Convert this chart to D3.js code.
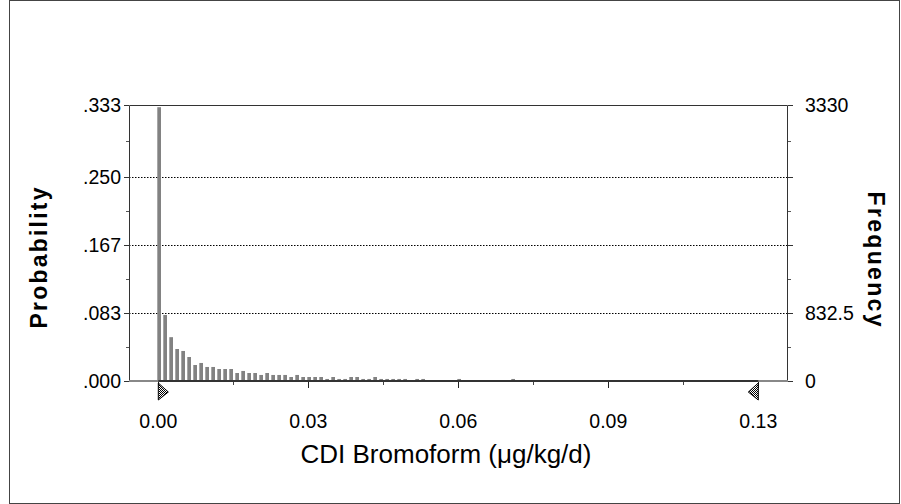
<!DOCTYPE html>
<html><head><meta charset="utf-8">
<script src="https://cdn.jsdelivr.net/npm/d3@7"></script>
<style>html,body{margin:0;padding:0;background:#fff;}svg{display:block;}</style>
</head><body>
<svg id="chart" width="901" height="504"></svg>
<script>
// ---- data ----
const binX = [0.0000,0.0013,0.0026,0.0039,0.0052,0.0065,0.0078,0.0091,0.0104,0.0117,
  0.0130,0.0143,0.0156,0.0169,0.0182,0.0195,0.0208,0.0221,0.0234,0.0247,
  0.0260,0.0273,0.0286,0.0299,0.0312,0.0325,0.0338,0.0351,0.0364,0.0377,
  0.0390,0.0403,0.0416,0.0429,0.0442,0.0455,0.0468,0.0481,0.0494,0.0507,
  0.0520,0.0533,0.0559,0.0572,0.0650,0.0767];
const probability = [0.3355,0.0809,0.0537,0.0392,0.0368,0.0294,0.0196,0.0221,0.0172,0.0172,
  0.0147,0.0147,0.0147,0.0098,0.0123,0.0098,0.0098,0.0074,0.0098,0.0074,
  0.0074,0.0074,0.0049,0.0074,0.0049,0.0049,0.0049,0.0049,0.0025,0.0049,
  0.0025,0.0025,0.0049,0.0049,0.0025,0.0025,0.0049,0.0025,0.0025,0.0025,
  0.0025,0.0025,0.0025,0.0025,0.0025,0.0025];
const xTickValues = [0, 0.0325, 0.065, 0.0975, 0.13];
const xTickLabels = ["0.00", "0.03", "0.06", "0.09", "0.13"];
const probMax = 0.3382;
const probTickValues = [0, 0.0833, 0.1667, 0.25, probMax];
const probTickLabels = [".000", ".083", ".167", ".250", ".333"];
const freqTickLabels = ["0", "832.5", "", "", "3330"];
const certaintyRange = [0, 0.13];
const xTitle = "CDI Bromoform (\u03bcg/kg/d)";
const yTitleLeft = "Probability";
const yTitleRight = "Frequency";

// ---- layout ----
const svg = d3.select("#chart");
const L = 129, R = 787, T = 105, B = 381;
const x = d3.scaleLinear().domain([0, 0.13]).range([158.3, 758.3]);
const y = d3.scaleLinear().domain([0, probMax]).range([B, T]);
const font = "'Liberation Sans', Arial, sans-serif";

// outer border
svg.append("rect").attr("x", 9.5).attr("y", 0.5).attr("width", 890).attr("height", 503)
  .attr("fill", "none").attr("stroke", "#444").attr("stroke-width", 1);

// checker pattern
const defs = svg.append("defs");
const pat = defs.append("pattern").attr("id", "chk").attr("width", 2).attr("height", 2)
  .attr("patternUnits", "userSpaceOnUse");
pat.append("rect").attr("width", 2).attr("height", 2).attr("fill", "#fff");
pat.append("rect").attr("width", 1).attr("height", 1).attr("fill", "#000");
pat.append("rect").attr("x", 1).attr("y", 1).attr("width", 1).attr("height", 1).attr("fill", "#000");

// gridlines (dotted)
svg.append("g").selectAll("line").data(probTickValues.slice(1, 4)).join("line")
  .attr("x1", L).attr("x2", R)
  .attr("y1", d => Math.round(y(d)) + 0.5).attr("y2", d => Math.round(y(d)) + 0.5)
  .attr("stroke", "#000").attr("stroke-width", 1).attr("stroke-dasharray", "1.5,1.5");

// bars
svg.append("g").selectAll("rect").data(binX).join("rect")
  .attr("x", d => x(d) - 1)
  .attr("width", 3.7)
  .attr("y", (d, i) => y(probability[i]))
  .attr("height", (d, i) => B - y(probability[i]))
  .attr("fill", "#828282");

// frame
svg.append("path").attr("d", `M${L + 0.5},${B} V${T + 0.5} H${R + 0.5} V${B}`)
  .attr("fill", "none").attr("stroke", "#333").attr("stroke-width", 1);
// bottom axis line
svg.append("line").attr("x1", L).attr("x2", R + 1).attr("y1", B).attr("y2", B)
  .attr("stroke", "#888").attr("stroke-width", 2);
svg.append("line").attr("x1", x(certaintyRange[0])).attr("x2", x(certaintyRange[1])).attr("y1", B).attr("y2", B)
  .attr("stroke", "#333").attr("stroke-width", 2);

// y ticks (major + minor) left and right
const minorY = probTickValues.slice(0, -1).map((v, i) => (v + probTickValues[i + 1]) / 2);
function yTicks(side) {
  const g = svg.append("g");
  const x0 = side === "left" ? L : R + 1;
  const dir = side === "left" ? -1 : 1;
  g.selectAll("line.maj").data(probTickValues).join("line")
    .attr("x1", x0).attr("x2", x0 + dir * 5)
    .attr("y1", d => Math.round(y(d)) + 0.5).attr("y2", d => Math.round(y(d)) + 0.5)
    .attr("stroke", "#333");
  g.selectAll("line.min").data(minorY).join("line")
    .attr("x1", x0).attr("x2", x0 + dir * 3)
    .attr("y1", d => Math.round(y(d)) + 0.5).attr("y2", d => Math.round(y(d)) + 0.5)
    .attr("stroke", "#555");
}
yTicks("left"); yTicks("right");

svg.append("g").selectAll("text").data(probTickValues).join("text")
  .attr("x", 121).attr("y", d => y(d)).attr("dy", "0.36em")
  .attr("text-anchor", "end").attr("font-family", font).attr("font-size", 19.5)
  .text((d, i) => probTickLabels[i]);
svg.append("g").selectAll("text").data(probTickValues).join("text")
  .attr("x", 805).attr("y", d => y(d)).attr("dy", "0.36em")
  .attr("text-anchor", "start").attr("font-family", font).attr("font-size", 19.5)
  .text((d, i) => freqTickLabels[i]);

// x ticks
const minorX = xTickValues.slice(0, -1).map((v, i) => (v + xTickValues[i + 1]) / 2);
svg.append("g").selectAll("line").data(xTickValues).join("line")
  .attr("x1", d => Math.round(x(d)) + 0.5).attr("x2", d => Math.round(x(d)) + 0.5)
  .attr("y1", B + 1).attr("y2", B + 7).attr("stroke", "#222");
svg.append("g").selectAll("line").data(minorX).join("line")
  .attr("x1", d => Math.round(x(d)) + 0.5).attr("x2", d => Math.round(x(d)) + 0.5)
  .attr("y1", B + 1).attr("y2", B + 4).attr("stroke", "#444");
svg.append("g").selectAll("text").data(xTickValues).join("text")
  .attr("x", d => x(d)).attr("y", 428)
  .attr("text-anchor", "middle").attr("font-family", font).attr("font-size", 19.5)
  .text((d, i) => xTickLabels[i]);

// certainty triangles
const xl = x(certaintyRange[0]), xr = x(certaintyRange[1]);
svg.append("path").attr("d", `M${xl},${B + 2} L${xl + 10},${B + 11} L${xl},${B + 19} Z`)
  .attr("fill", "url(#chk)").attr("stroke", "#000").attr("stroke-width", 1);
svg.append("path").attr("d", `M${xr},${B + 2} L${xr - 10},${B + 11} L${xr},${B + 19} Z`)
  .attr("fill", "url(#chk)").attr("stroke", "#000").attr("stroke-width", 1);

// titles
svg.append("text").attr("x", 446).attr("y", 463).attr("text-anchor", "middle")
  .attr("font-family", font).attr("font-size", 26).text(xTitle);
svg.append("text").attr("transform", "translate(47,258) rotate(-90)")
  .attr("text-anchor", "middle").attr("font-family", font).attr("font-weight", "bold")
  .attr("font-size", 23).attr("textLength", 141).attr("lengthAdjust", "spacing").text(yTitleLeft);
svg.append("text").attr("transform", "translate(868,259) rotate(90)")
  .attr("text-anchor", "middle").attr("font-family", font).attr("font-weight", "bold")
  .attr("font-size", 23).attr("textLength", 135).attr("lengthAdjust", "spacing").text(yTitleRight);
</script>
</body></html>
